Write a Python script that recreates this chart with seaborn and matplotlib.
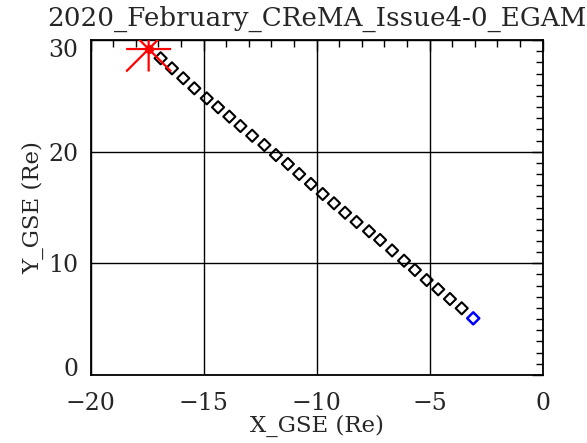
import matplotlib
matplotlib.use("Agg")
import matplotlib.pyplot as plt
import matplotlib.transforms as mtransforms
from matplotlib.path import Path
from matplotlib.ticker import MultipleLocator
import seaborn as sns
import pandas as pd

OUTPUT_FILE = "out.png"
TITLE = "2020_February_CReMA_Issue4-0_EGAM"

# posicion inicial (asterisco rojo)
START_X = [-17.43]
START_Y = [29.2]

# trayectoria (rombos), el ultimo se pinta en azul
X_GSE = [-16.90, -16.40, -15.90, -15.41, -14.86, -14.36, -13.86, -13.37, -12.85, -12.31,
         -11.80, -11.27, -10.77, -10.25, -9.73, -9.23, -8.74, -8.23, -7.68, -7.19,
         -6.66, -6.13, -5.65, -5.13, -4.62, -4.10, -3.58, -3.07]
Y_GSE = [28.37, 27.47, 26.58, 25.68, 24.78, 23.98, 23.14, 22.30, 21.43, 20.60,
         19.70, 18.90, 18.00, 17.11, 16.21, 15.38, 14.53, 13.70, 12.87, 12.09,
         11.15, 10.23, 9.40, 8.50, 7.67, 6.80, 5.97, 5.07]

X_TICKS = [-20, -15, -10, -5, 0]
Y_TICKS = [0, 10, 20, 30]

# asterisco tipo IDL: cruz + aspa
ASTERISK = Path(
  [(-1, 0), (1, 0), (0, -1), (0, 1), (-1, -1), (1, 1), (-1, 1), (1, -1)],
  [Path.MOVETO, Path.LINETO] * 4
)


def orbit_plot():
  sns.set_style("white")
  plt.rcParams['font.family'] = ['DejaVu Serif']
  plt.rcParams['axes.unicode_minus'] = True

  df = pd.DataFrame({'x': X_GSE[:-1], 'y': Y_GSE[:-1]})
  last = pd.DataFrame({'x': X_GSE[-1:], 'y': Y_GSE[-1:]})
  start = pd.DataFrame({'x': START_X, 'y': START_Y})

  fig = plt.figure(figsize=(5.87, 4.43), dpi=100)
  ax = fig.add_axes([0.1543, 0.1537, 0.9244 - 0.1543, 0.9095 - 0.1537])

  sns.scatterplot(data=df, x='x', y='y', marker='D', s=38,
                  facecolors='none', edgecolor='black', linewidth=1.5, ax=ax, zorder=3)
  sns.scatterplot(data=last, x='x', y='y', marker='D', s=38,
                  facecolors='none', edgecolor='blue', linewidth=1.8, ax=ax, zorder=3)
  sns.scatterplot(data=start, x='x', y='y', marker=ASTERISK, s=1050,
                  facecolors='none', edgecolor='red', linewidth=1.6, ax=ax, zorder=4)
  sns.scatterplot(data=start, x='x', y='y', marker='o', s=30,
                  color='red', edgecolor='red', linewidth=1, ax=ax, zorder=4)

  ax.set_xlim(-20, 0)
  ax.set_ylim(0, 30)
  ax.set_xticks(X_TICKS)
  ax.set_yticks(Y_TICKS)
  ax.xaxis.set_minor_locator(MultipleLocator(1))
  ax.yaxis.set_minor_locator(MultipleLocator(1))
  ax.tick_params(which='both', direction='in', top=True, right=True,
                 color='black', labelsize=17, width=1)
  ax.tick_params(which='major', length=8)
  ax.tick_params(axis='x', which='major', pad=12)
  ax.tick_params(axis='y', which='major', pad=9)
  ax.tick_params(which='minor', length=5)
  ax.grid(True, which='major', color='black', linewidth=1)

  # IDL mete las etiquetas extremas del eje Y hacia dentro
  fig.canvas.draw()
  labels = ax.get_yticklabels()
  shift_up = mtransforms.ScaledTranslation(0, 6 / 72, fig.dpi_scale_trans)
  shift_down = mtransforms.ScaledTranslation(0, -6 / 72, fig.dpi_scale_trans)
  labels[0].set_transform(labels[0].get_transform() + shift_up)
  labels[-1].set_transform(labels[-1].get_transform() + shift_down)

  for sp in ax.spines.values():
    sp.set_color('black')
    sp.set_linewidth(1.3)

  ax.set_title(TITLE, fontsize=18.8, pad=10)
  ax.set_xlabel('X_GSE (Re)', fontsize=16.5, labelpad=0)
  ax.set_ylabel('Y_GSE (Re)', fontsize=16.5, labelpad=3)

  fig.savefig(OUTPUT_FILE, dpi=100)
  plt.close(fig)


def main():
  orbit_plot()


if __name__ == "__main__":
  main()
